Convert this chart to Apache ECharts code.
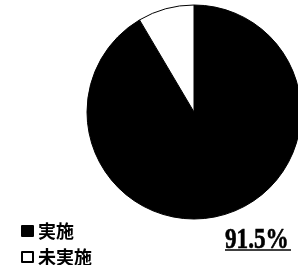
<!DOCTYPE html>
<html>
<head>
<meta charset="utf-8">
<script src="https://cdn.jsdelivr.net/npm/echarts@6/dist/echarts.min.js"></script>
<style>
  html, body { margin: 0; padding: 0; background: #fff; }
  #main { width: 298px; height: 265px; }
</style>
</head>
<body>
<div id="main"></div>
<script>
var categories = ['実施', '未実施'];
var values = [91.5, 8.5];
var colors = ['#000000', '#ffffff'];

var chart = echarts.init(document.getElementById('main'));

var total = values[0] + values[1];
var pctText = (values[0] / total * 100).toFixed(1) + '%';

var option = {
  animation: false,
  backgroundColor: '#fff',
  legend: {
    orient: 'vertical',
    left: 21,
    top: 222,
    height: 60,
    padding: 0,
    icon: 'rect',
    itemWidth: 11,
    itemHeight: 10,
    itemGap: 8,
    data: categories,
    textStyle: {
      fontFamily: 'Noto Sans CJK JP',
      fontWeight: 'bold',
      fontSize: 18,
      lineHeight: 17,
      color: '#000'
    }
  },
  graphic: [
    {
      type: 'text',
      x: 225,
      y: 226,
      scaleX: 0.8,
      style: {
        text: pctText,
        fontFamily: 'Liberation Serif',
        fontWeight: 'bold',
        fontSize: 29,
        fill: '#000',
        stroke: '#000',
        lineWidth: 0.6
      }
    },
    {
      type: 'line',
      shape: { x1: 225, y1: 250, x2: 291, y2: 250 },
      style: { stroke: '#000', lineWidth: 1.5 }
    }
  ],
  series: [
    {
      type: 'pie',
      center: [194, 112],
      radius: 107,
      startAngle: 90,
      clockwise: true,
      label: { show: false },
      labelLine: { show: false },
      emphasis: { disabled: true },
      itemStyle: { borderColor: '#000', borderWidth: 1 },
      data: categories.map(function (name, i) {
        return { name: name, value: values[i], itemStyle: { color: colors[i] } };
      })
    }
  ]
};

chart.setOption(option);
</script>
</body>
</html>
